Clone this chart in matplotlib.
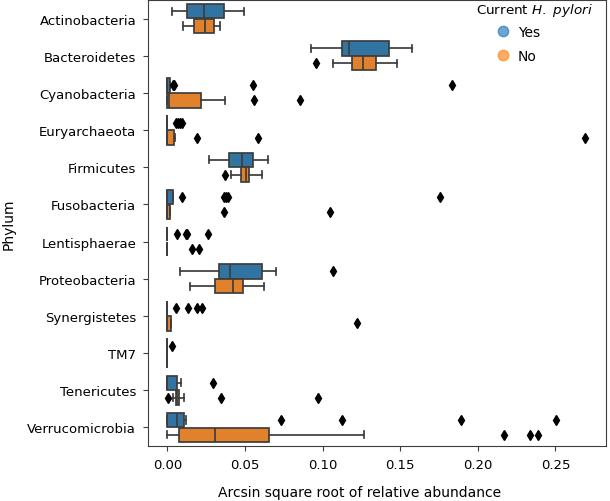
import numpy as np
import matplotlib
matplotlib.use('Agg')
import matplotlib.pyplot as plt
from matplotlib.lines import Line2D

# Phyla, top to bottom
phyla = ["Actinobacteria", "Bacteroidetes", "Cyanobacteria", "Euryarchaeota", "Firmicutes",
         "Fusobacteria", "Lentisphaerae", "Proteobacteria", "Synergistetes", "TM7",
         "Tenericutes", "Verrucomicrobia"]

# Box stats, current H. pylori = Yes
yes_lo = [0.0028, 0.0923, 0.0, 0.0, 0.0266, 0.0, 0.0, 0.0081, 0.0, 0.0, 0.0, 0.0]
yes_q1 = [0.0128, 0.1123, 0.0, 0.0, 0.0395, 0.0, 0.0, 0.0335, 0.0, 0.0, 0.0, 0.0]
yes_med = [0.0238, 0.1170, 0.0, 0.0, 0.0483, 0.0, 0.0, 0.0401, 0.0, 0.0, 0.0, 0.0064]
yes_q3 = [0.0367, 0.1430, 0.0018, 0.0, 0.0552, 0.0034, 0.0, 0.0607, 0.0, 0.0, 0.0060, 0.0107]
yes_hi = [0.0496, 0.1576, 0.0018, 0.0, 0.0646, 0.0034, 0.0, 0.0700, 0.0, 0.0, 0.0088, 0.0120]
yes_fliers = [[], [], [0.0035, 0.0045, 0.0554, 0.1836], [0.0055, 0.0068, 0.0082, 0.0095], [],
              [0.0096, 0.0365, 0.0378, 0.0390, 0.1756], [0.0060, 0.0118, 0.0128, 0.0262], [0.1065],
              [0.0055, 0.0131, 0.0193, 0.0225], [0.0030], [0.0296], [0.0732, 0.1123, 0.1892, 0.2504]]

# current H. pylori = No
no_lo = [0.0101, 0.1065, 0.0, 0.0, 0.0410, 0.0, 0.0, 0.0146, 0.0, 0.0, 0.0038, 0.0]
no_q1 = [0.0169, 0.1191, 0.0, 0.0, 0.0472, 0.0, 0.0, 0.0309, 0.0, 0.0, 0.0055, 0.0075]
no_med = [0.0244, 0.1258, 0.0010, 0.0, 0.0504, 0.0, 0.0, 0.0420, 0.0, 0.0, 0.0064, 0.0307]
no_q3 = [0.0300, 0.1342, 0.0214, 0.0043, 0.0528, 0.0020, 0.0, 0.0489, 0.0022, 0.0, 0.0077, 0.0655]
no_hi = [0.0341, 0.1481, 0.0371, 0.0050, 0.0612, 0.0020, 0.0, 0.0624, 0.0022, 0.0, 0.0107, 0.1267]
no_fliers = [[], [0.0958], [0.0558, 0.0852], [0.0193, 0.0586, 0.2690], [0.0371], [0.0367, 0.1050],
             [0.0157, 0.0206], [], [0.1224], [], [0.0006, 0.0345, 0.0972], [0.2167, 0.2336, 0.2388]]

blue = '#3274a1'
orange = '#e1812c'
gray = '#3d3d3d'

plt.rcParams['font.family'] = 'DejaVu Sans'
plt.rcParams['mathtext.fontset'] = 'dejavusans'

fig = plt.figure(figsize=(6.1, 5.02), dpi=100)
ax = fig.add_axes([0.2426, 0.1096, 0.9934 - 0.2426, 0.998 - 0.1096])


def make_stats(lo, q1, med, q3, hi, fl):
    return [dict(whislo=lo[i], q1=q1[i], med=med[i], q3=q3[i], whishi=hi[i], fliers=fl[i])
            for i in range(len(lo))]


pos = np.arange(len(phyla))
groups = [(make_stats(yes_lo, yes_q1, yes_med, yes_q3, yes_hi, yes_fliers), -0.2, blue),
          (make_stats(no_lo, no_q1, no_med, no_q3, no_hi, no_fliers), 0.2, orange)]

for stats, off, col in groups:
    ax.bxp(stats, positions=pos + off, widths=0.39, vert=False, patch_artist=True,
           boxprops=dict(facecolor=col, edgecolor=gray, linewidth=1.25),
           medianprops=dict(color=gray, linewidth=1.25),
           whiskerprops=dict(color=gray, linewidth=1.25),
           capprops=dict(color=gray, linewidth=1.25),
           flierprops=dict(marker='d', markerfacecolor='black', markeredgecolor='black',
                           markersize=5, linestyle='none'),
           manage_ticks=False)

ax.set_yticks(pos)
ax.set_yticklabels(phyla, fontsize=9.5)
ax.set_ylim(len(phyla) - 0.5, -0.5)
ax.set_xlim(-0.0125, 0.2826)
ax.set_xticks([0.0, 0.05, 0.10, 0.15, 0.20, 0.25])
ax.set_xticklabels(['0.00', '0.05', '0.10', '0.15', '0.20', '0.25'], fontsize=9.5)
ax.tick_params(axis='both', length=3.5, color=gray, pad=5)
for s in ax.spines.values():
    s.set_color(gray)
ax.set_xlabel('Arcsin square root of relative abundance', fontsize=10)
ax.xaxis.set_label_coords(0.463, -0.088)
ax.set_ylabel('Phylum', fontsize=10)
ax.yaxis.set_label_coords(-0.288, 0.5)

# legend: title as text, items below it
ax.text(0.844, 0.978, r'Current $\it{H.\ pylori}$', transform=ax.transAxes,
        ha='center', va='center', fontsize=9.7)
handles = [Line2D([], [], marker='o', linestyle='none', markersize=7.5, color='tab:blue', alpha=0.65),
           Line2D([], [], marker='o', linestyle='none', markersize=7.5, color='tab:orange', alpha=0.65)]
ax.legend(handles, ['Yes', 'No'], loc='upper left', bbox_to_anchor=(0.7524, 0.944),
          frameon=False, fontsize=10, handlelength=1.5, handletextpad=0.33,
          labelspacing=0.7, borderpad=0, borderaxespad=0)

fig.savefig('out.png', dpi=100)
